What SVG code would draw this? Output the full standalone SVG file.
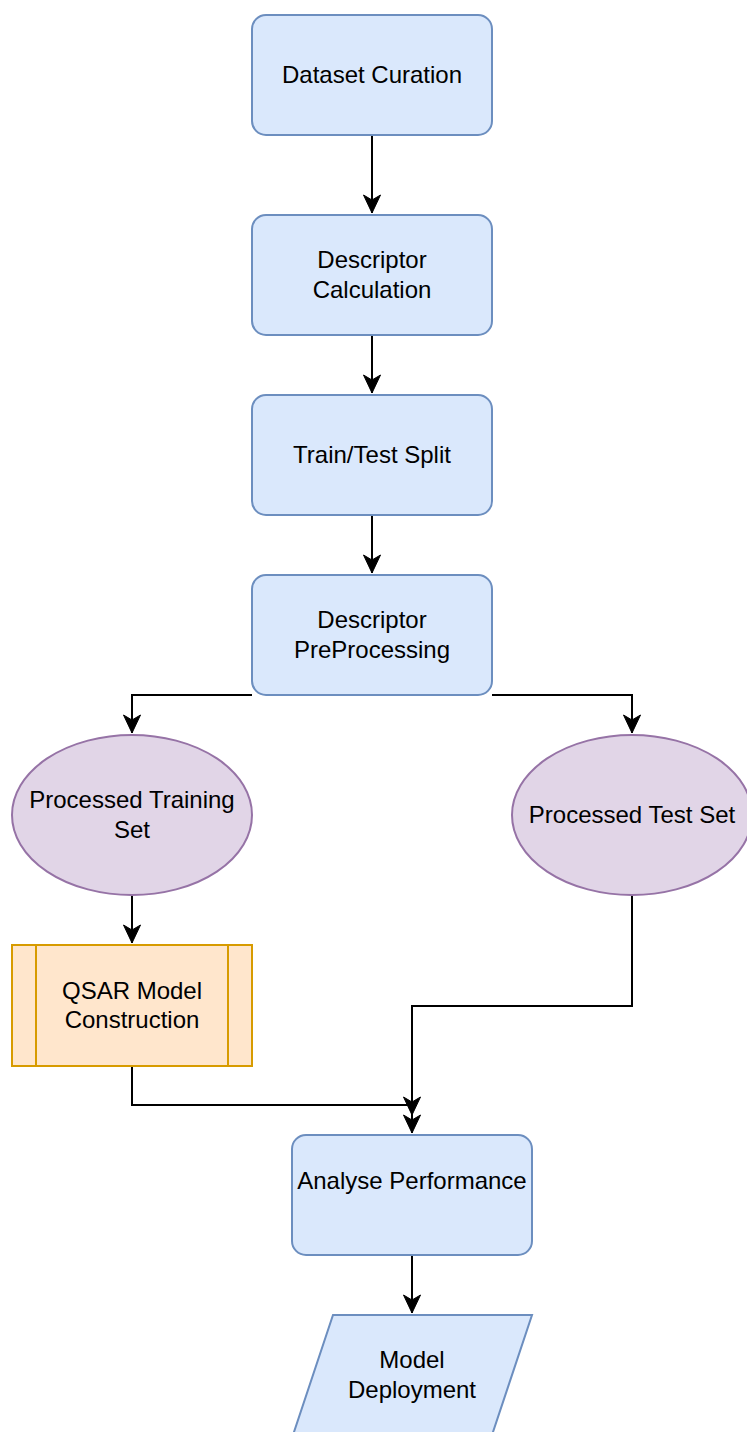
<svg xmlns="http://www.w3.org/2000/svg" width="747" height="1432" viewBox="0 0 747 1432">
<style>
.proc{fill:#dae8fc;stroke:#6c8ebf;stroke-width:2}
.ell{fill:#e1d5e7;stroke:#9673a6;stroke-width:2}
.sub{fill:#ffe6cc;stroke:#d79b00;stroke-width:2}
.edge{fill:none;stroke:#000;stroke-width:2}
text{font-family:"Liberation Sans",Arial,sans-serif;font-size:24px;fill:#000;text-anchor:middle}
</style>
<defs>
<marker id="arr" markerUnits="userSpaceOnUse" markerWidth="20" markerHeight="20" viewBox="-19 -10 20 20" refX="0" refY="0" orient="auto">
<path d="M0,0 L-18,-8.5 L-13,0 L-18,8.5 Z" fill="#000" stroke="#000" stroke-width="1"/>
</marker>
</defs>
<rect width="747" height="1432" fill="#fff"/>
<g id="connectors">
<path class="edge" d="M372,135 V213" marker-end="url(#arr)"/>
<path class="edge" d="M372,335 V393" marker-end="url(#arr)"/>
<path class="edge" d="M372,515 V573" marker-end="url(#arr)"/>
<path class="edge" d="M252,695 H132 V733" marker-end="url(#arr)"/>
<path class="edge" d="M492,695 H632 V733" marker-end="url(#arr)"/>
<path class="edge" d="M132,895 V943" marker-end="url(#arr)"/>
<path class="edge" d="M132,1066 V1105 H412 V1115" marker-end="url(#arr)"/>
<path class="edge" d="M632,895 V1006 H412 V1133" marker-end="url(#arr)"/>
<path class="edge" d="M412,1255 V1313" marker-end="url(#arr)"/>
</g>
<g id="dataset-curation">
<rect class="proc" x="252" y="15" width="240" height="120" rx="14"/>
<text x="372" y="83">Dataset Curation</text>
</g>
<g id="descriptor-calculation">
<rect class="proc" x="252" y="215" width="240" height="120" rx="14"/>
<text x="372" y="268">Descriptor</text>
<text x="372" y="298">Calculation</text>
</g>
<g id="train-test-split">
<rect class="proc" x="252" y="395" width="240" height="120" rx="14"/>
<text x="372" y="463">Train/Test Split</text>
</g>
<g id="descriptor-preprocessing">
<rect class="proc" x="252" y="575" width="240" height="120" rx="14"/>
<text x="372" y="628">Descriptor</text>
<text x="372" y="658">PreProcessing</text>
</g>
<g id="processed-training-set">
<ellipse class="ell" cx="132" cy="815" rx="120" ry="80"/>
<text x="132" y="808">Processed Training</text>
<text x="132" y="838">Set</text>
</g>
<g id="processed-test-set">
<ellipse class="ell" cx="632" cy="815" rx="120" ry="80"/>
<text x="632" y="823">Processed Test Set</text>
</g>
<g id="qsar-model-construction">
<rect class="sub" x="12" y="945" width="240" height="121"/>
<line class="sub" x1="36" y1="945" x2="36" y2="1066"/>
<line class="sub" x1="228" y1="945" x2="228" y2="1066"/>
<text x="132" y="999">QSAR Model</text>
<text x="132" y="1028">Construction</text>
</g>
<g id="analyse-performance">
<rect class="proc" x="292" y="1135" width="240" height="120" rx="14"/>
<text x="412" y="1189">Analyse Performance</text>
</g>
<g id="model-deployment">
<polygon class="proc" points="333,1315 532,1315 492,1435 293,1435"/>
<text x="412" y="1368">Model</text>
<text x="412" y="1398">Deployment</text>
</g>
</svg>
